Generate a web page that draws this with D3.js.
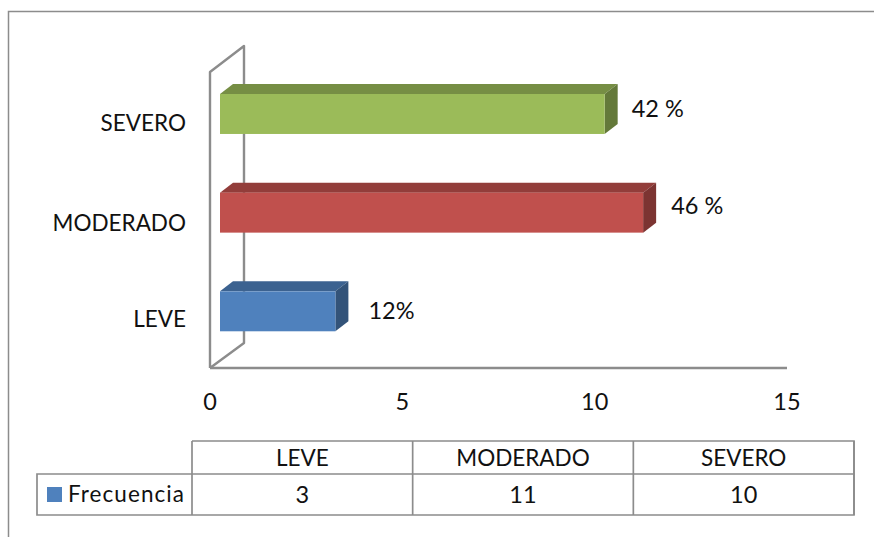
<!DOCTYPE html>
<html>
<head>
<meta charset="utf-8">
<script src="https://cdn.jsdelivr.net/npm/d3@7"></script>
<style>
html,body{margin:0;padding:0;background:#fff;}
svg{display:block;}
text{font-family:Lato,"Open Sans",sans-serif;fill:#111;font-size:22.5px;}
</style>
</head>
<body>
<svg id="chart" width="874" height="537"></svg>
<script>
const categories = ["SEVERO", "MODERADO", "LEVE"];
const values = [10, 11, 3];
const labels = ["42 %", "46 %", "12%"];
const frontColors = ["#9BBB59", "#C0504D", "#4F81BD"];
const topColors = ["#768E44", "#923D3A", "#3C6290"];
const sideColors = ["#64793A", "#7C3432", "#335379"];
const xTicks = [0, 5, 10, 15];
const tableCategories = ["LEVE", "MODERADO", "SEVERO"];
const tableValues = [3, 11, 10];
const seriesName = "Frecuencia";

const svg = d3.select("#chart");
const grey = "#8c8c8c";
const x = d3.scaleLinear().domain([0, 15]).range([210, 787]);
const y = d3.scaleBand().domain(categories).range([35.3, 390]).paddingInner(0.595).paddingOuter(0.595);
const dx = 34, dy = 25;      // wall depth
const bdx = 13, bdy = 10;    // bar depth
const barShift = 10;         // bar offset from front of wall
const labelShift = [[14, 3], [15, 1], [20, 8]]; // hand-placed data labels in the original
const catShift = [17, 18, 16];

// outer frame
svg.append("path").attr("d", "M8.5,537V11.5H874").attr("fill", "none").attr("stroke", grey).attr("stroke-width", 1.5);

// wall and floor
const wallTop = 72, floor = 368;
svg.append("path")
  .attr("d", d3.line()([[x(0), floor], [x(0), wallTop], [x(0) + dx, wallTop - dy - 1], [x(0) + dx, floor - dy], [x(0), floor]]))
  .attr("fill", "none").attr("stroke", grey).attr("stroke-width", 2.4).attr("stroke-linejoin", "round");
svg.append("line").attr("x1", x(0)).attr("x2", x(15)).attr("y1", floor).attr("y2", floor)
  .attr("stroke", grey).attr("stroke-width", 2.4);

// bars
const g = svg.append("g").selectAll("g").data(categories).join("g");
g.each(function (c, i) {
  const s = d3.select(this);
  const x0 = x(0) + barShift, x1 = x(values[i]) + barShift, y0 = y(c), y1 = y0 + y.bandwidth();
  const mid = y0 + y.bandwidth() / 2;
  s.append("path").attr("fill", topColors[i])
    .attr("d", d3.line()([[x0, y0], [x0 + bdx, y0 - bdy], [x1 + bdx, y0 - bdy], [x1, y0]]) + "Z");
  s.append("path").attr("fill", sideColors[i])
    .attr("d", d3.line()([[x1, y0], [x1 + bdx, y0 - bdy], [x1 + bdx, y1 - bdy], [x1, y1]]) + "Z");
  s.append("rect").attr("x", x0).attr("y", y0).attr("width", x1 - x0).attr("height", y1 - y0).attr("fill", frontColors[i]);
  s.append("text").attr("x", x1 + bdx + labelShift[i][0]).attr("y", mid + labelShift[i][1])
    .style("font-size", "23.5px").text(labels[i]);
  s.append("text").attr("x", 186).attr("y", mid + catShift[i]).attr("text-anchor", "end").text(c);
});

// x axis labels
svg.append("g").selectAll("text").data(xTicks).join("text")
  .attr("x", d => x(d)).attr("y", 410).attr("text-anchor", "middle").style("font-size", "23.5px").text(d => d);

// data table
const colX = d3.scalePoint().domain(d3.range(4)).range([192, 854]);
const rowTop = 441, rowMid = 474, rowBot = 515, legendLeft = 37;
const t = svg.append("g").attr("fill", "none").attr("stroke", grey).attr("stroke-width", 1.7);
t.append("path").attr("d", `M${colX(0)},${rowTop}H${colX(3)}V${rowBot}H${legendLeft}V${rowMid}H${colX(3)}`);
d3.range(4).forEach(i => t.append("line").attr("x1", colX(i)).attr("x2", colX(i)).attr("y1", rowTop).attr("y2", rowBot));
const cx = i => (colX(i) + colX(i + 1)) / 2;
svg.append("g").selectAll("text").data(tableCategories).join("text")
  .attr("x", (d, i) => cx(i)).attr("y", 466).attr("text-anchor", "middle").text(d => d);
svg.append("g").selectAll("text").data(tableValues).join("text")
  .attr("x", (d, i) => cx(i)).attr("y", 503).attr("text-anchor", "middle").style("font-size", "23.5px").text(d => d);
svg.append("rect").attr("x", 47).attr("y", 487).attr("width", 15).attr("height", 15).attr("fill", "#4F81BD");
svg.append("text").attr("x", 68).attr("y", 502).attr("textLength", 116).attr("lengthAdjust", "spacing").text(seriesName);
</script>
</body>
</html>
